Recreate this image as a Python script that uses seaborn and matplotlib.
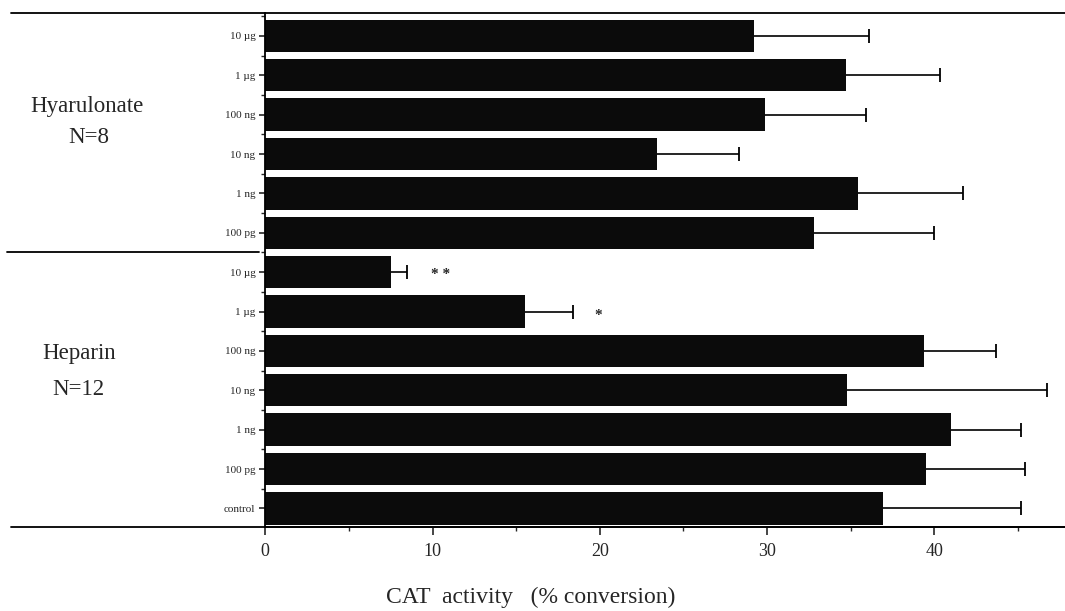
import pandas as pd
import seaborn as sns
import matplotlib.pyplot as plt
from matplotlib.ticker import MultipleLocator, FixedLocator
from matplotlib.transforms import blended_transform_factory

# values (mean and upper error bar end)
hyal_doses = ['10 µg', '1 µg', '100 ng', '10 ng', '1 ng', '100 pg']
hyal_mean = [29.2, 34.7, 29.9, 23.4, 35.4, 32.8]
hyal_top = [36.1, 40.3, 35.9, 28.3, 41.7, 40.0]

hep_doses = ['10 µg', '1 µg', '100 ng', '10 ng', '1 ng', '100 pg', 'control']
hep_mean = [7.5, 15.5, 39.4, 34.8, 41.0, 39.5, 36.9]
hep_top = [8.5, 18.4, 43.7, 46.7, 45.2, 45.4, 45.2]

doses = hyal_doses + hep_doses
groups = ['Hyarulonate'] * len(hyal_doses) + ['Heparin'] * len(hep_doses)
df = pd.DataFrame({
    'group': groups,
    'dose': doses,
    'mean': hyal_mean + hep_mean,
    'top': hyal_top + hep_top,
})
df['key'] = df['group'] + ' ' + df['dose']
df['err'] = df['top'] - df['mean']

sns.set_style('white')
plt.rcParams['font.family'] = ['Liberation Serif', 'DejaVu Serif']

fig = plt.figure(figsize=(10.65, 6.11), dpi=100)
ax = fig.add_axes([0.249, 0.137, 0.751, 0.841])

sns.barplot(data=df, x='mean', y='key', order=list(df['key']), color='#0b0b0b',
            width=0.82, errorbar=None, saturation=1, edgecolor='none', ax=ax)
# one-sided error bars: line from bar end, cap only at the top
ax.errorbar(df['mean'], range(len(df)), xerr=[[0] * len(df), df['err']],
            fmt='none', ecolor='black', elinewidth=1.2, capsize=0)
ax.plot(df['top'], range(len(df)), ls='none', marker='|', ms=10, mew=1.3, color='black')

ax.set_xlim(0, 47.8)
ax.set_ylim(12.48, -0.57)
ax.set_yticks(range(len(df)))
ax.set_yticklabels(doses, fontsize=8)
ax.yaxis.set_minor_locator(FixedLocator([i + 0.5 for i in range(-1, len(df))]))
ax.xaxis.set_major_locator(MultipleLocator(10))
ax.xaxis.set_minor_locator(MultipleLocator(5))
ax.tick_params(axis='x', which='major', direction='out', length=6, width=1.2,
               labelsize=13, pad=5, bottom=True)
ax.tick_params(axis='x', which='minor', direction='out', length=3, width=1, bottom=True)
ax.tick_params(axis='y', which='major', direction='out', length=4, width=1.2, left=True, pad=3)
ax.tick_params(axis='y', which='minor', direction='out', length=3, width=1, left=True)
ax.set_xlabel('')
ax.set_ylabel('')

for s in ['top', 'right']:
    ax.spines[s].set_visible(False)
for s in ['left', 'bottom']:
    ax.spines[s].set_color('black')
    ax.spines[s].set_linewidth(1.3)

# long rules across the figure
tr = blended_transform_factory(fig.transFigure, ax.transAxes)
ax.plot([0.01, 1.0], [1, 1], color='black', lw=1.3, transform=tr, clip_on=False)
ax.plot([0.01, 1.0], [0, 0], color='black', lw=1.3, transform=tr, clip_on=False)
tr2 = blended_transform_factory(fig.transFigure, ax.transData)
ax.plot([0.007, 0.243], [5.5, 5.5], color='black', lw=1.3, transform=tr2, clip_on=False)

# group labels
fig.text(0.082, 0.825, 'Hyarulonate', ha='center', va='center', fontsize=16.5)
fig.text(0.083, 0.775, 'N=8', ha='center', va='center', fontsize=16.5)
fig.text(0.074, 0.422, 'Heparin', ha='center', va='center', fontsize=16.5)
fig.text(0.074, 0.362, 'N=12', ha='center', va='center', fontsize=16.5)

# significance marks
ax.text(10.5, 6.05, '* *', ha='center', va='center', fontsize=11, fontweight='bold')
ax.text(19.9, 7.1, '*', ha='center', va='center', fontsize=11, fontweight='bold')

fig.text(0.498, 0.023, 'CAT  activity   (% conversion)', ha='center', va='center', fontsize=17)

fig.savefig('out.png', dpi=100)
